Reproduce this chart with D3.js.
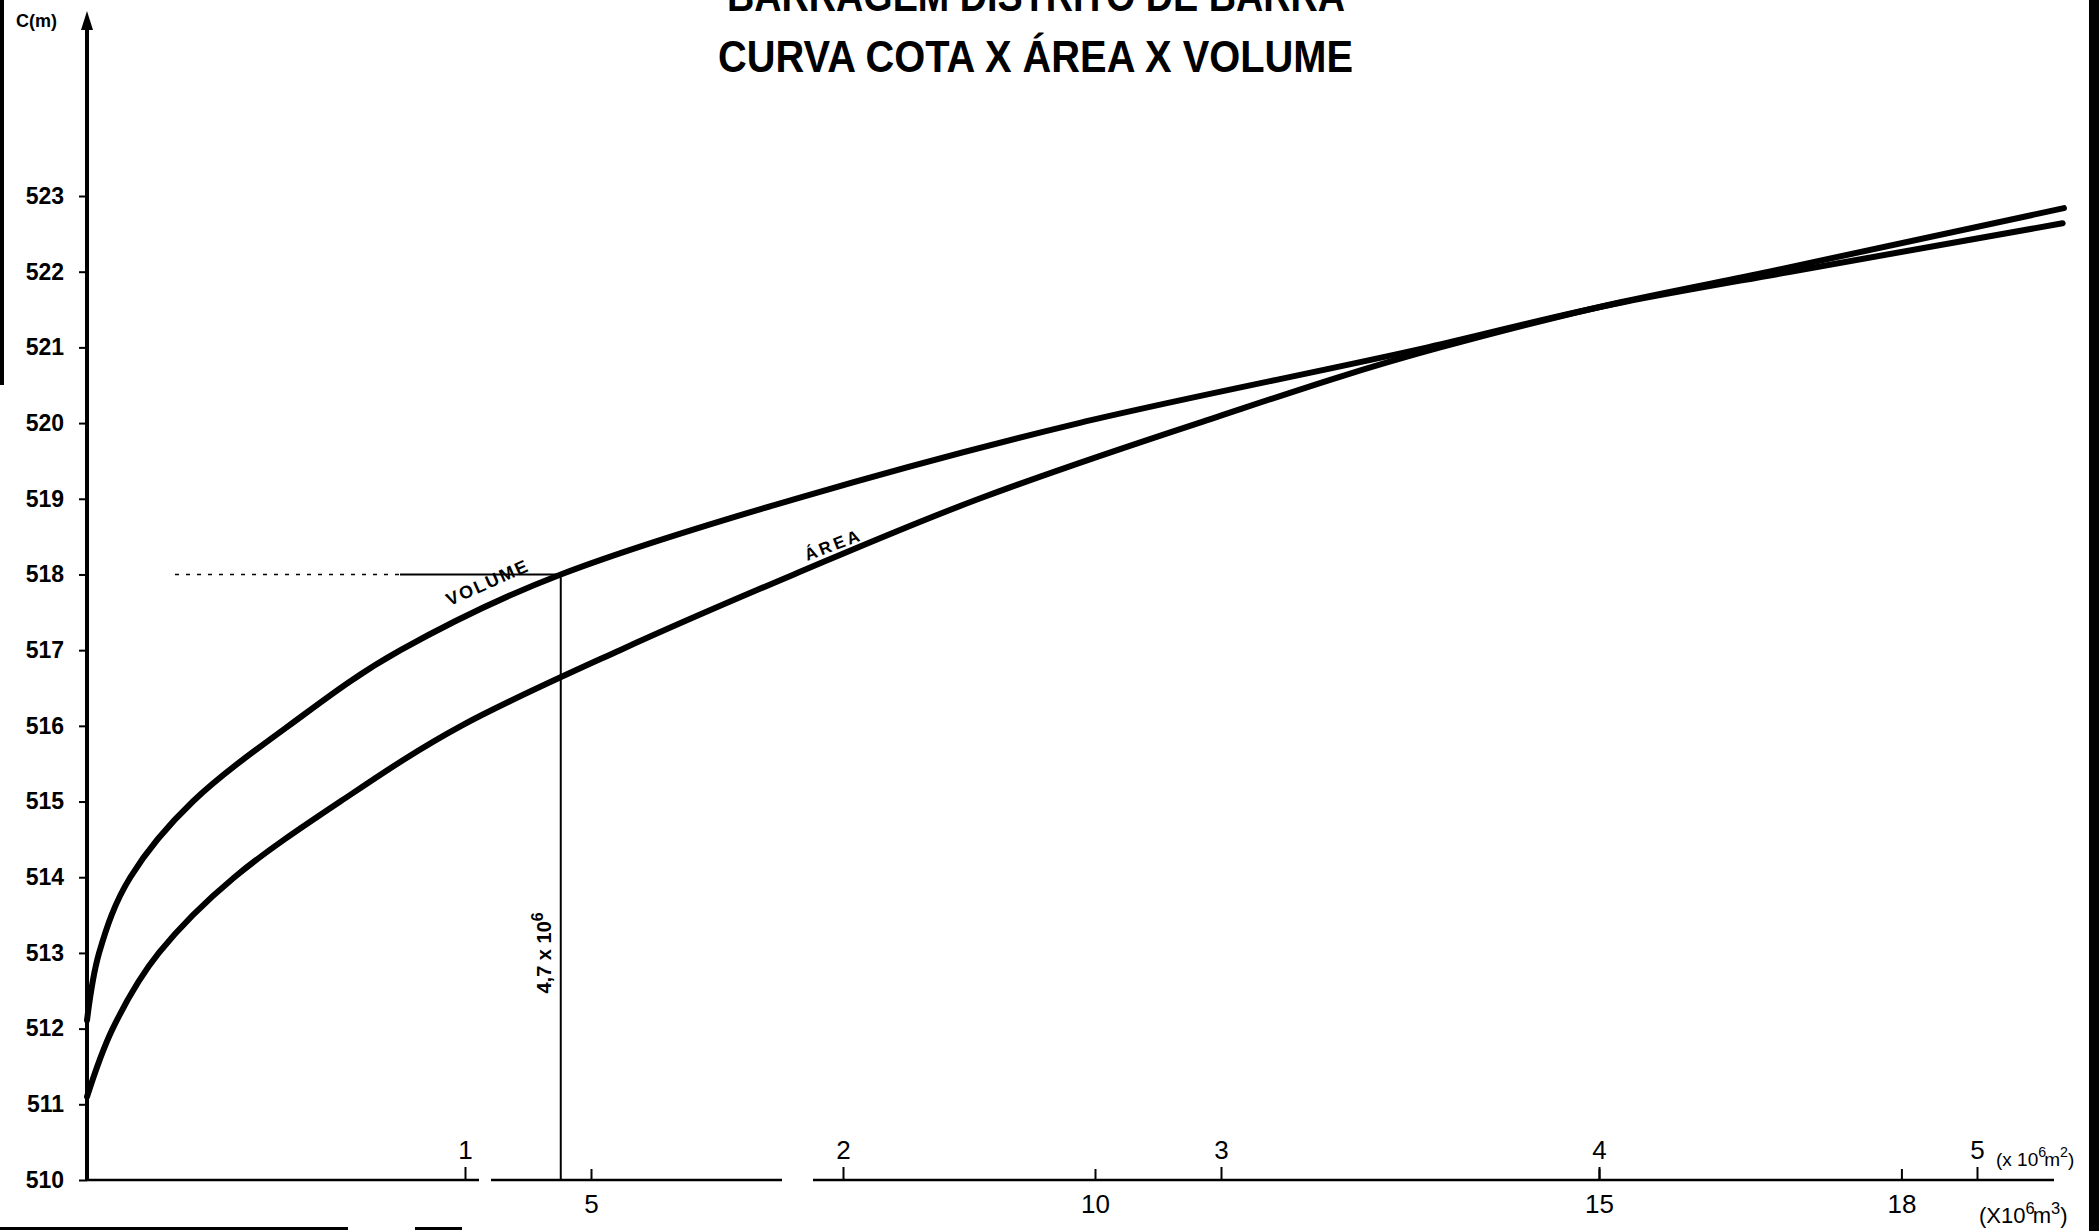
<!DOCTYPE html>
<html>
<head>
<meta charset="utf-8">
<script src="https://cdn.jsdelivr.net/npm/d3@7"></script>
<style>
  html, body { margin: 0; padding: 0; background: #fff; }
  svg { display: block; }
</style>
</head>
<body>
<script>
// cota x área x volume
const areaCota  = [511.1, 512, 513, 514, 515, 516, 517, 518, 519, 520, 521, 521.6, 522, 522.84];
const areaValue = [0, 0.068, 0.19, 0.39, 0.67, 0.99, 1.41, 1.87, 2.36, 2.94, 3.58, 4.06, 4.45, 5.23]; // x10^6 m2
const volumeCota  = [512.11, 513, 514, 515, 516, 517, 518, 519, 520, 521, 521.6, 522, 522.64];
const volumeValue = [0, 0.12, 0.43, 1.05, 2.0, 3.11, 4.7, 7.03, 9.84, 13.3, 15.25, 16.9, 19.6]; // x10^6 m3
const cotaTicks = d3.range(510, 524);
const areaTicks = [1, 2, 3, 4, 5];
const volumeTicks = [5, 10, 15, 18];
const markCota = 518, markVolume = 4.7;

const width = 2099, height = 1231;
const font = "'Liberation Sans', Arial, sans-serif";

const y = d3.scaleLinear().domain([510, 523]).range([1180, 196]);
const xA = d3.scaleLinear().domain([0, 5]).range([87, 1977]);
const xV = d3.scaleLinear().domain([0, 20]).range([87, 2103]);

const svg = d3.select("body").append("svg")
    .attr("width", width)
    .attr("height", height)
    .attr("viewBox", [0, 0, width, height])
    .style("font-family", font);

svg.append("rect").attr("width", width).attr("height", height).attr("fill", "#fff");

// scan borders
svg.append("rect").attr("x", 0).attr("y", 0).attr("width", 4).attr("height", 385).attr("fill", "#000");
svg.append("rect").attr("x", 2089).attr("y", 0).attr("width", 10).attr("height", height).attr("fill", "#000");
svg.append("rect").attr("x", 0).attr("y", 1227).attr("width", 348).attr("height", 3).attr("fill", "#000");
svg.append("rect").attr("x", 415).attr("y", 1227).attr("width", 47).attr("height", 3).attr("fill", "#000");

// titles (first line is cut by the top of the sheet, as in the scan)
svg.append("text")
    .attr("x", 727).attr("y", 11)
    .attr("textLength", 618).attr("lengthAdjust", "spacingAndGlyphs")
    .attr("font-size", 45).attr("font-weight", "bold")
    .text("BARRAGEM DISTRITO DE BARRA");
svg.append("text")
    .attr("x", 718).attr("y", 72)
    .attr("textLength", 635).attr("lengthAdjust", "spacingAndGlyphs")
    .attr("font-size", 45).attr("font-weight", "bold")
    .text("CURVA COTA X ÁREA X VOLUME");

// y axis
const gy = svg.append("g")
    .attr("transform", `translate(${xA(0)},0)`)
    .call(d3.axisLeft(y).tickValues(cotaTicks).tickSize(8).tickPadding(15).tickFormat(d3.format("d")));
gy.select(".domain").remove();
gy.selectAll(".tick line").attr("stroke-width", 2);
gy.selectAll(".tick text").attr("font-size", 23).attr("font-weight", "bold").attr("font-family", font);

svg.append("line")
    .attr("x1", xA(0)).attr("x2", xA(0))
    .attr("y1", y(510)).attr("y2", 24)
    .attr("stroke", "#000").attr("stroke-width", 4);
svg.append("path")
    .attr("d", `M${xA(0)},11 L${xA(0) - 6},30 L${xA(0) + 6},30 Z`)
    .attr("fill", "#000");
svg.append("text")
    .attr("x", 16).attr("y", 27)
    .attr("font-size", 18).attr("font-weight", "bold")
    .text("C(m)");

// x axis baseline (with the breaks of the original)
const base = y(510);
[[xA(0), 479], [491, 782], [813, 2054]].forEach(([a, b]) => {
  svg.append("line")
      .attr("x1", a).attr("x2", b)
      .attr("y1", base).attr("y2", base)
      .attr("stroke", "#000").attr("stroke-width", 2.5);
});

// area scale, labels above
const ga = svg.append("g")
    .attr("transform", `translate(0,${base})`)
    .call(d3.axisTop(xA).tickValues(areaTicks).tickSize(13).tickPadding(8).tickFormat(d3.format("d")));
ga.select(".domain").remove();
ga.selectAll(".tick line").attr("stroke-width", 2);
ga.selectAll(".tick text").attr("font-size", 26).attr("font-family", font);

// volume scale, ticks up, labels below
const gv = svg.append("g")
    .attr("transform", `translate(0,${base})`)
    .call(d3.axisTop(xV).tickValues(volumeTicks).tickSize(11).tickFormat(d3.format("d")));
gv.select(".domain").remove();
gv.selectAll(".tick line").attr("stroke-width", 2);
gv.selectAll(".tick text")
    .attr("y", 33).attr("dy", 0)
    .attr("font-size", 26).attr("font-family", font);

// unit labels
function unit(x, yy, pre, exp1, mid, exp2, size) {
  const t = svg.append("text").attr("x", x).attr("y", yy).attr("font-size", size);
  t.append("tspan").text(pre);
  t.append("tspan").attr("dy", -9).attr("font-size", size * 0.75).text(exp1);
  t.append("tspan").attr("dy", 9).attr("dx", -2).text(mid);
  t.append("tspan").attr("dy", -9).attr("font-size", size * 0.75).text(exp2);
  t.append("tspan").attr("dy", 9).text(")");
}
unit(1996, 1166, "(x 10", "6", "m", "2", 19);
unit(1979, 1223, "(X10", "6", "m", "3", 22);

// reference lines for 4,7 x 10^6 at 518
svg.append("line")
    .attr("x1", 175).attr("x2", 400)
    .attr("y1", y(markCota)).attr("y2", y(markCota))
    .attr("stroke", "#000").attr("stroke-width", 1.5)
    .attr("stroke-dasharray", "4,7");
svg.append("line")
    .attr("x1", 400).attr("x2", xV(markVolume))
    .attr("y1", y(markCota)).attr("y2", y(markCota))
    .attr("stroke", "#000").attr("stroke-width", 2);
svg.append("line")
    .attr("x1", xV(markVolume)).attr("x2", xV(markVolume))
    .attr("y1", y(markCota)).attr("y2", base)
    .attr("stroke", "#000").attr("stroke-width", 2);

const mark = svg.append("text")
    .attr("transform", `translate(${xV(markVolume) - 10},${y(513.0)}) rotate(-90)`)
    .attr("text-anchor", "middle")
    .attr("font-size", 20).attr("font-weight", "bold");
mark.append("tspan").text("4,7 x 10");
mark.append("tspan").attr("dy", -8).attr("font-size", 16).text("6");

// curves
const line = d3.line().curve(d3.curveMonotoneY);
svg.append("path")
    .attr("d", line(d3.zip(volumeValue.map(xV), volumeCota.map(y))))
    .attr("fill", "none").attr("stroke", "#000")
    .attr("stroke-width", 6).attr("stroke-linecap", "round");
svg.append("path")
    .attr("d", line(d3.zip(areaValue.map(xA), areaCota.map(y))))
    .attr("fill", "none").attr("stroke", "#000")
    .attr("stroke-width", 6).attr("stroke-linecap", "round");

// curve labels
svg.append("text")
    .attr("transform", `translate(${xV(4.0)},${y(517.9) + 6}) rotate(-24)`)
    .attr("text-anchor", "middle")
    .attr("font-size", 18).attr("font-weight", "bold").attr("letter-spacing", 2)
    .text("VOLUME");
svg.append("text")
    .attr("transform", `translate(${xA(1.98)},${y(518.4) + 6}) rotate(-21)`)
    .attr("text-anchor", "middle")
    .attr("font-size", 17).attr("font-weight", "bold").attr("letter-spacing", 3)
    .text("ÁREA");
</script>
</body>
</html>
